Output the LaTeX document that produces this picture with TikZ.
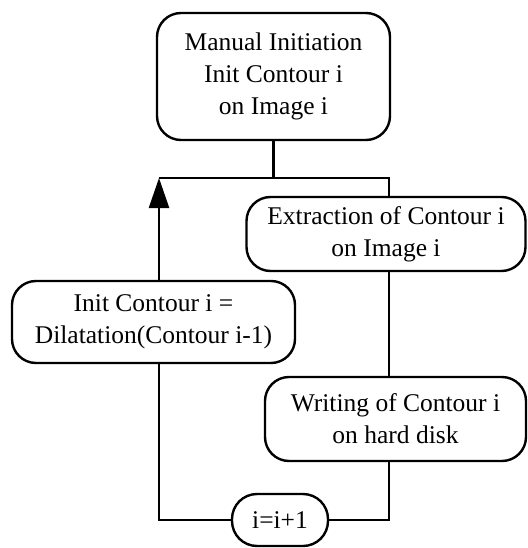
\documentclass[tikz,border=0pt]{standalone}
\usepackage{fontspec}
\setmainfont{Liberation Serif}
\usetikzlibrary{arrows.meta}
\tikzset{
  flowbox/.style={draw, line width=2.4pt, rounded corners=24pt, align=center,
    font=\fontsize{25.5}{32}\selectfont, inner sep=0pt},
  link/.style={line width=2.4pt}
}
\begin{document}
\begin{tikzpicture}[x=1pt, y=-1pt]
\useasboundingbox (0,0) rectangle (527,548);
\node[flowbox, minimum width=233pt, minimum height=127pt] (top) at (273.5,76.5) {Manual Initiation\\Init Contour i\\on Image i};
\node[flowbox, minimum width=279pt, minimum height=74pt] (extract) at (386,234) {Extraction of Contour i\\on Image i};
\node[flowbox, minimum width=283pt, minimum height=82pt] (init) at (153.5,322) {Init Contour i =\\Dilatation(Contour i-1)};
\node[flowbox, minimum width=261pt, minimum height=84pt] (write) at (395.5,419) {Writing of Contour i\\on hard disk};
\node[flowbox, rounded corners=25pt, minimum width=96pt, minimum height=52pt] (incr) at (280,520) {i=i+1};
\coordinate (jl) at (159,178);
\coordinate (jr) at (389,178);
\coordinate (bl) at (159,520);
\coordinate (br) at (389,520);
\draw[link] (top.south) -- (top.south |- jl);
\draw[link] (jl) -- (jr) -- (jr |- extract.north);
\draw[link] (extract.south -| jr) -- (write.north -| jr);
\draw[link] (write.south -| jr) -- (br) -- (incr.east);
\draw[link] (incr.west) -- (bl) -- (init.south -| bl);
\draw[link, -{Triangle[length=30pt, width=20pt]}] (init.north -| bl) -- (jl);
\end{tikzpicture}
\end{document}
